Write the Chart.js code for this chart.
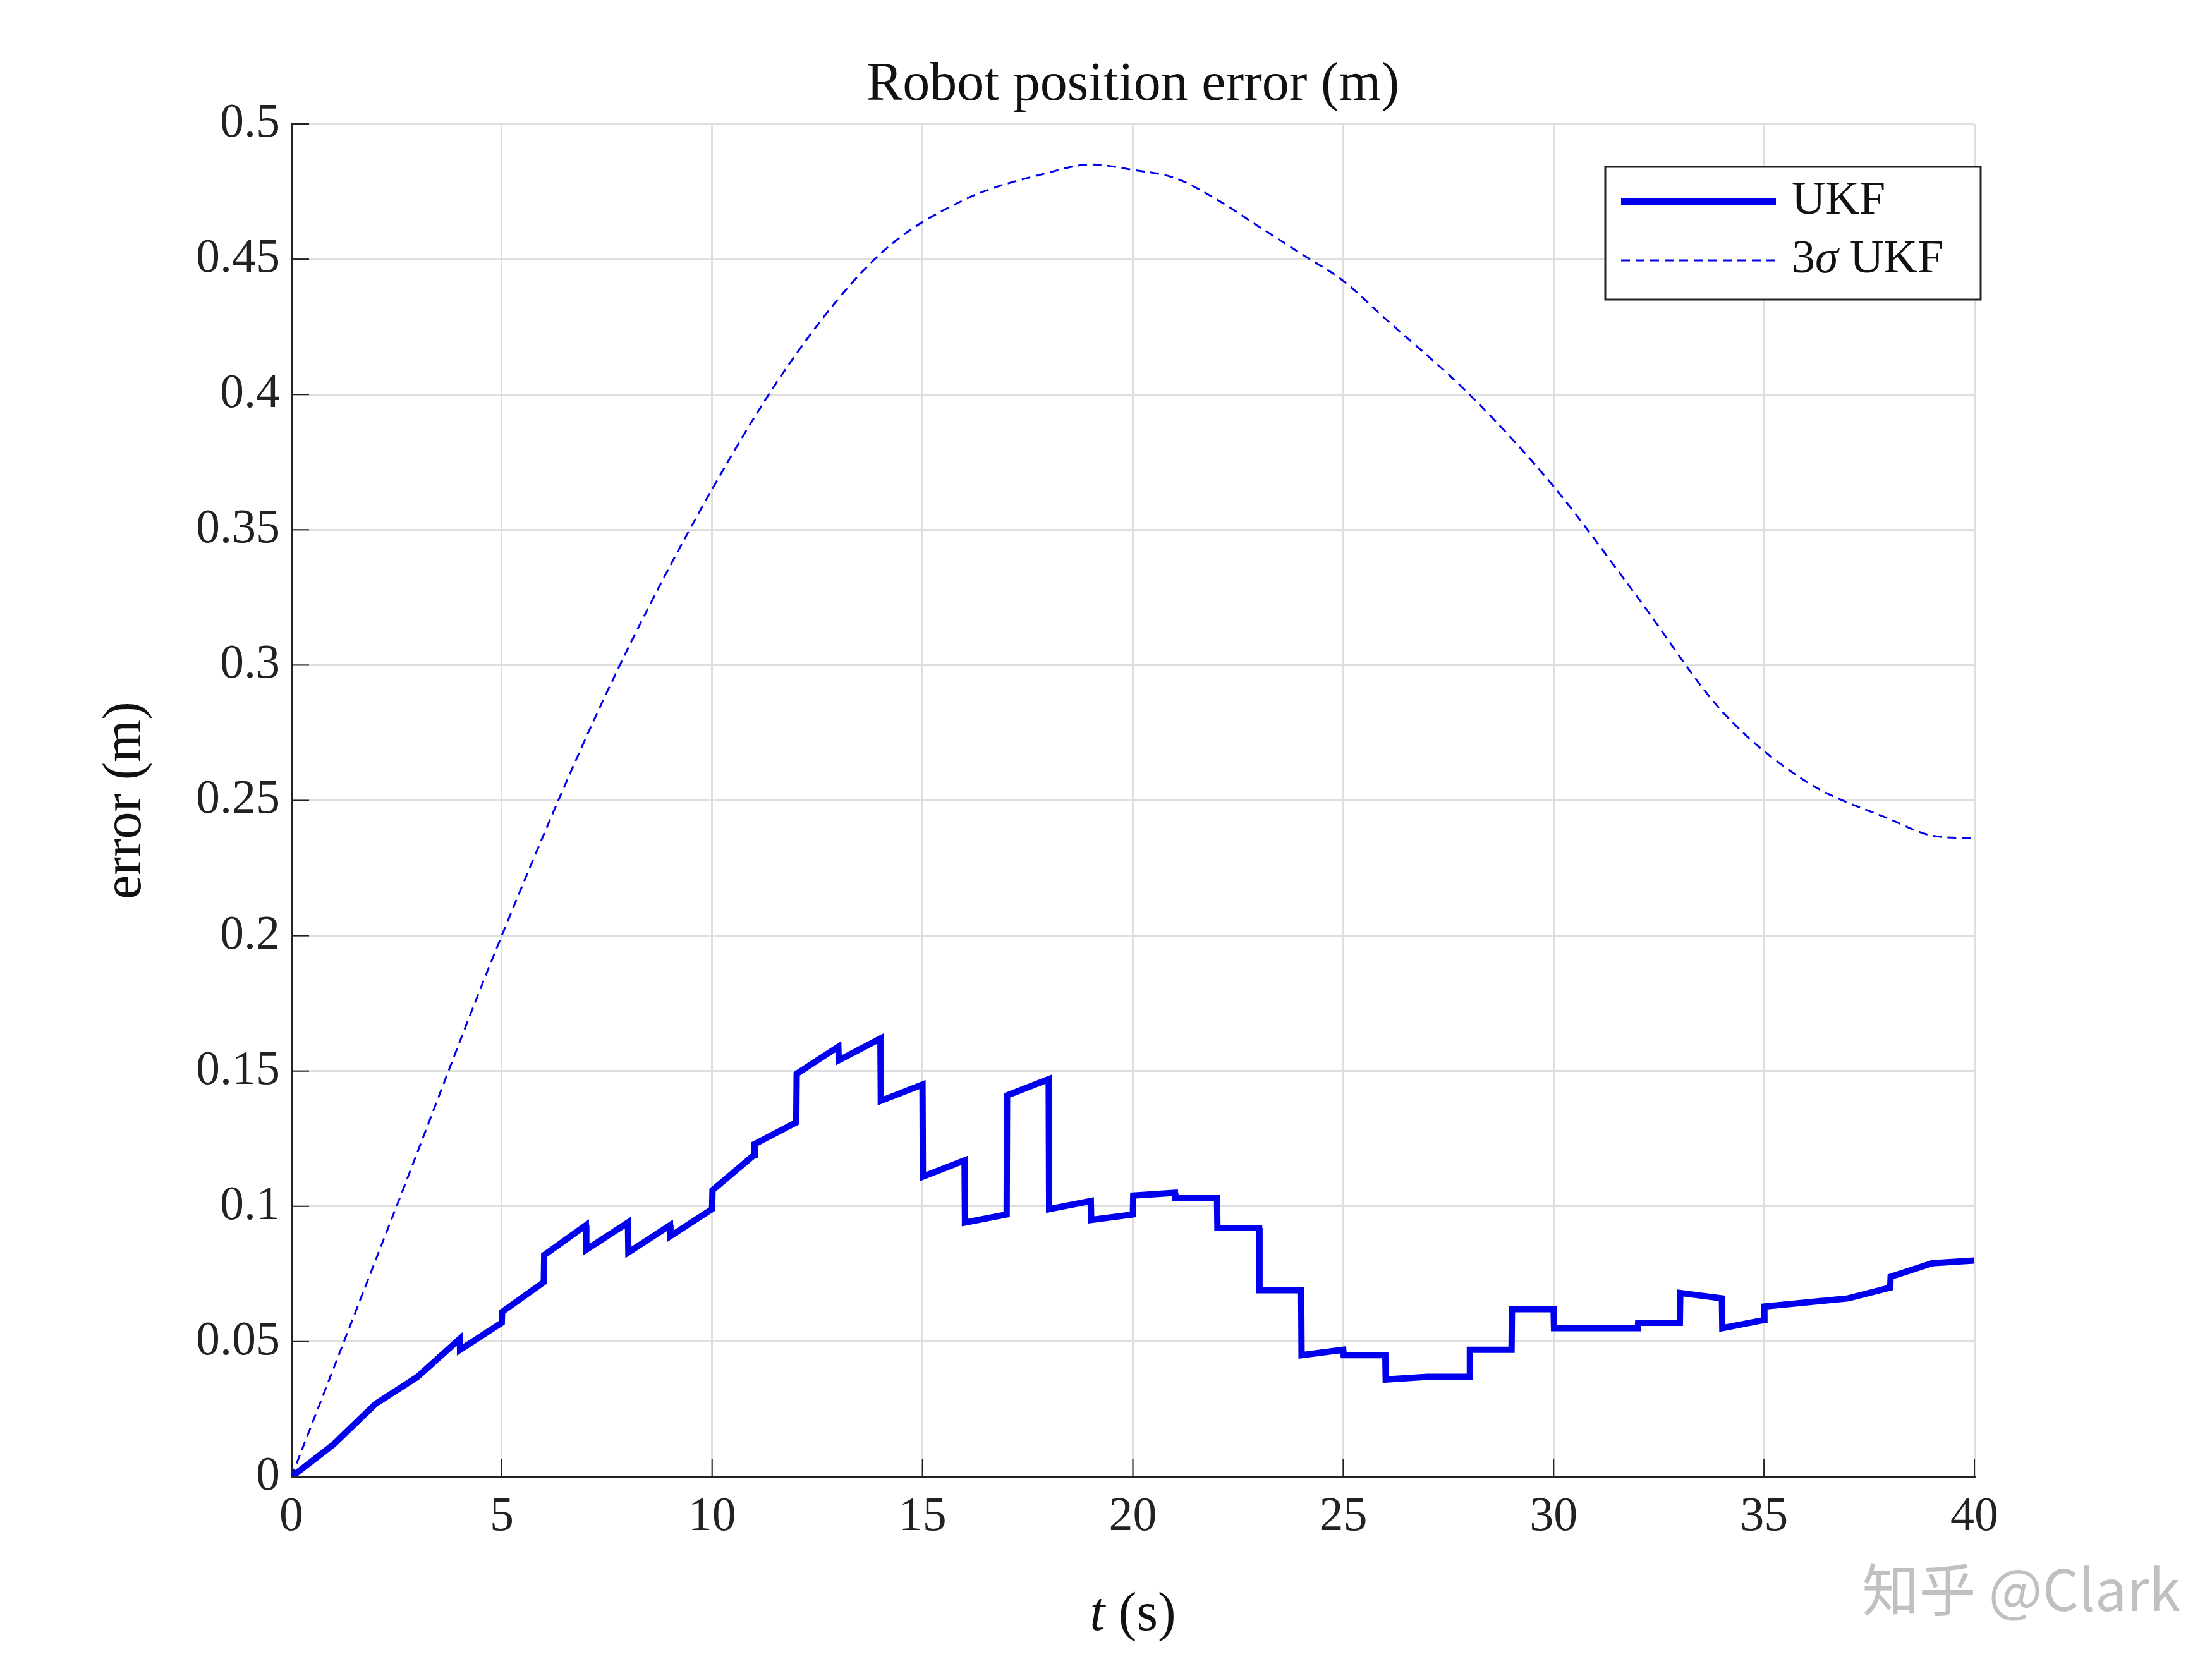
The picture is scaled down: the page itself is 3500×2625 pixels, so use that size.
<!DOCTYPE html>
<html><head><meta charset="utf-8">
<script src="https://cdn.jsdelivr.net/npm/chart.js@4"></script>
<style>html,body{margin:0;padding:0;background:#fff}#c{width:3500px;height:2625px}</style>
</head><body><div id="c"><canvas id="cv" width="3500" height="2625"></canvas></div>
<script>
const ukfT = [0,1,2,3,4,4.01,5,5.01,6,6.01,7,7.01,8,8.01,9,9.01,10,10.01,11,11.01,12,12.01,13,13.01,14,14.01,15,15.01,16,16.01,17,17.01,18,18.01,19,19.01,20,20.01,21,21.01,22,22.01,23,23.01,24,24.01,25,25.01,26,26.01,27,28,28.01,29,29.01,30,30.01,32,32.01,33,33.01,34,34.01,35,35.01,37,38,38.01,39,40];
const ukfE = [0,0.012,0.027,0.037,0.051,0.047,0.057,0.061,0.072,0.082,0.093,0.084,0.094,0.083,0.093,0.089,0.099,0.106,0.119,0.123,0.131,0.149,0.159,0.154,0.162,0.139,0.145,0.111,0.117,0.094,0.097,0.141,0.147,0.099,0.102,0.095,0.097,0.104,0.105,0.103,0.103,0.092,0.092,0.069,0.069,0.045,0.047,0.045,0.045,0.036,0.037,0.037,0.047,0.047,0.062,0.062,0.055,0.055,0.057,0.057,0.068,0.066,0.055,0.058,0.063,0.066,0.070,0.074,0.079,0.080];
const sigT = [0,2.5,5,7.5,10,12,14,16,18,19,20,21,22,23,24,25,26,28,30,32,34,36,38,39,40];
const sigE = [0,0.1,0.2,0.29,0.365,0.415,0.452,0.472,0.482,0.485,0.483,0.48,0.472,0.462,0.452,0.442,0.428,0.4,0.366,0.325,0.283,0.257,0.243,0.237,0.236];
const xTicks = [0,5,10,15,20,25,30,35,40];
const yTicks = [0,0.05,0.1,0.15,0.2,0.25,0.3,0.35,0.4,0.45,0.5];
const F = "'Liberation Serif', 'DejaVu Serif', serif";

const overlay = {
  id:'overlay',
  afterDraw(ch){
    const c=ch.ctx, a=ch.chartArea;
    c.save();
    c.fillStyle='#111'; c.font='86px '+F; c.textAlign='center'; c.textBaseline='middle';
    c.fillText('Robot position error (m)',(a.left+a.right)/2,135);
    c.font='italic 86px '+F;
    const tw=c.measureText('t').width; c.font='86px '+F; const sw=c.measureText(' (s)').width;
    const cx=(a.left+a.right)/2, x0=cx-(tw+sw)/2;
    c.textAlign='left'; c.font='italic 86px '+F; c.fillText('t',x0,2556);
    c.font='86px '+F; c.fillText(' (s)',x0+tw,2556);
    c.save(); c.translate(199,(a.top+a.bottom)/2); c.rotate(-Math.PI/2); c.textAlign='center';
    c.fillText('error (m)',0,0); c.restore();
    // inward ticks
    c.strokeStyle='#222'; c.lineWidth=2;
    xTicks.forEach(v=>{const x=ch.scales.x.getPixelForValue(v);c.beginPath();c.moveTo(x,a.bottom);c.lineTo(x,a.bottom-28);c.stroke();});
    yTicks.forEach(v=>{const y=ch.scales.y.getPixelForValue(v);c.beginPath();c.moveTo(a.left,y);c.lineTo(a.left+28,y);c.stroke();});
    // legend
    const lx=2540, ly=264, lw=594, lh=210;
    c.fillStyle='#fff'; c.fillRect(lx,ly,lw,lh);
    c.strokeStyle='#222'; c.lineWidth=3; c.strokeRect(lx,ly,lw,lh);
    const ds=ch.data.datasets;
    const rows=[ly+55, ly+148];
    ds.forEach((d,i)=>{
      c.strokeStyle=d.borderColor; c.lineWidth=d.borderWidth; c.setLineDash(d.borderDash||[]);
      c.beginPath(); c.moveTo(lx+25,rows[i]); c.lineTo(lx+270,rows[i]); c.stroke(); c.setLineDash([]);
      c.fillStyle='#111'; c.font='74px '+F; c.textAlign='left'; c.textBaseline='middle';
      if(i===0) c.fillText('UKF',lx+295,rows[i]);
      else { c.fillText('3',lx+295,rows[i]); const w=c.measureText('3').width; c.font='italic 74px '+F; c.fillText('σ',lx+295+w,rows[i]); const w2=c.measureText('σ').width; c.font='74px '+F; c.fillText(' UKF',lx+295+w+w2,rows[i]); }
    });
    c.fillStyle='rgba(150,150,150,0.6)'; c.font='90px "Noto Sans CJK SC", sans-serif'; c.textAlign='right';
    c.fillText('知乎 @Clark',3450,2515);
    c.restore();
  }
};

new Chart(document.getElementById('cv'),{
  type:'line',
  data:{datasets:[
    {label:'UKF',data:ukfT.map((t,i)=>({x:t,y:ukfE[i]})),borderColor:'#0000ee',borderWidth:10,pointRadius:0,tension:0,borderJoinStyle:'miter'},
    {label:'3σ UKF',data:sigT.map((t,i)=>({x:t,y:sigE[i]})),borderColor:'#0000ee',borderWidth:3,borderDash:[14,9],pointRadius:0,cubicInterpolationMode:'monotone'}
  ]},
  options:{
    responsive:false,animation:false,
    layout:{padding:{top:196,right:376,left:0,bottom:0}},
    plugins:{legend:{display:false},tooltip:{enabled:false}},
    scales:{
      x:{type:'linear',min:0,max:40,
        afterBuildTicks(s){s.ticks=xTicks.map(v=>({value:v}));},
        afterFit(s){s.height=288;},
        border:{color:'#222',width:3},
        grid:{color:'#dedede',lineWidth:3,drawTicks:false},
        ticks:{padding:18,font:{size:76,family:F},color:'#222'}
      },
      y:{min:0,max:0.5,
        afterBuildTicks(s){s.ticks=yTicks.map(v=>({value:v}));},
        afterFit(s){s.width=461;},
        border:{color:'#222',width:3},
        grid:{color:'#dedede',lineWidth:3,drawTicks:false},
        ticks:{padding:18,font:{size:76,family:F},color:'#222',callback:v=>String(+v.toFixed(2))}
      }
    }
  },
  plugins:[overlay]
});
</script></body></html>
